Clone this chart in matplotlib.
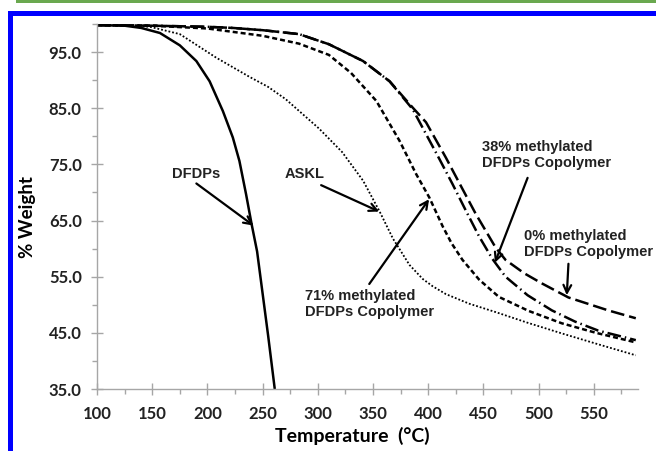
import matplotlib
matplotlib.use("Agg")
import matplotlib.pyplot as plt
from matplotlib.patches import Rectangle
from matplotlib.ticker import MultipleLocator

# TGA curves (temperature in C, % weight)
dfdps_t = [100, 125, 140, 157, 175, 190, 202, 214, 223, 229, 235, 240, 245, 250, 255, 261]
dfdps_w = [99.8, 99.7, 99.3, 98.4, 96.2, 93.4, 89.8, 84.5, 79.8, 75.6, 69.7, 64.4, 59.5, 52.0, 44.5, 35.0]

askl_t = [100, 125, 148, 175, 208, 238, 255, 271, 286, 301, 322, 341, 356, 368, 383, 395,
          404, 416, 437, 461, 490, 521, 555, 588]
askl_w = [99.8, 99.7, 99.5, 98.2, 94.0, 90.6, 88.8, 86.6, 84.0, 81.4, 77.2, 72.1, 66.6, 61.8, 57.1, 54.6,
          53.3, 51.9, 50.2, 48.7, 46.8, 44.9, 42.9, 41.0]

m71_t = [100, 150, 200, 223, 250, 283, 310, 330, 353, 374, 389, 401, 413, 421, 431, 446,
         464, 491, 521, 552, 588]
m71_w = [99.8, 99.7, 99.2, 98.6, 97.9, 96.5, 94.5, 91.3, 86.3, 79.2, 73.3, 69.1, 64.0, 61.0, 58.0, 54.5,
         51.4, 48.9, 46.7, 45.0, 43.3]

m0_t = [100, 150, 200, 223, 250, 283, 310, 341, 365, 386, 398, 416, 430, 443, 461, 470,
        487, 503, 527, 563, 588]
m0_w = [99.8, 99.7, 99.5, 99.3, 98.9, 98.2, 96.4, 93.4, 89.8, 85.1, 82.5, 76.2, 71.0, 66.2, 60.2, 58.0,
        55.6, 53.8, 51.3, 49.0, 47.6]

m38_t = [100, 150, 200, 223, 250, 283, 310, 341, 365, 386, 398, 410, 422, 434, 446, 458,
         470, 490, 512, 533, 554, 588]
m38_w = [99.8, 99.7, 99.5, 99.3, 98.9, 98.2, 96.4, 93.4, 89.8, 84.8, 80.4, 76.0, 71.5, 66.8, 62.2, 58.2,
         55.0, 51.7, 49.0, 47.0, 45.4, 43.7]

x_ticks = [100, 150, 200, 250, 300, 350, 400, 450, 500, 550]
y_ticks = [35.0, 45.0, 55.0, 65.0, 75.0, 85.0, 95.0]

plt.rcParams['font.family'] = ['Lato', 'DejaVu Sans']
plt.rcParams['font.weight'] = 'bold'

fig = plt.figure(figsize=(6.56, 4.51), dpi=100)
ax = fig.add_axes([97/656, 1 - 389/451, (638 - 97)/656, (389 - 24)/451])

lw = 1.8
ax.plot(dfdps_t, dfdps_w, color='black', lw=lw, solid_capstyle='butt')
ax.plot(askl_t, askl_w, color='black', lw=1.3, linestyle=(0, (1.0, 1.1)))
ax.plot(m71_t, m71_w, color='black', lw=lw, linestyle=(0, (2.0, 1.2)))
ax.plot(m0_t, m0_w, color='black', lw=lw, linestyle=(0, (5.5, 2.0)))
ax.plot(m38_t, m38_w, color='black', lw=lw, linestyle=(0, (5.5, 1.6, 0.6, 1.6)))

ax.set_xlim(100, 590)
ax.set_ylim(35, 100)

ax.xaxis.set_minor_locator(MultipleLocator(25))
ax.yaxis.set_minor_locator(MultipleLocator(5))
ax.set_xticks(x_ticks)
ax.set_yticks(y_ticks)
ax.set_yticklabels([f"{v:.1f}" for v in y_ticks])

for s in ['top', 'right']:
    ax.spines[s].set_visible(False)
for s in ['left', 'bottom']:
    ax.spines[s].set_color('#a6a6a6')
    ax.spines[s].set_linewidth(1.0)

ax.tick_params(which='major', direction='inout', length=8, width=1, color='#a6a6a6',
               labelsize=12, labelcolor='#222222')
ax.tick_params(which='minor', direction='out', length=3.5, width=1, color='#a6a6a6')
ax.tick_params(axis='x', which='major', pad=8)
ax.tick_params(axis='y', which='major', pad=7)

ax.set_xlabel("Temperature  (°C)", fontsize=14, fontweight='bold')
ax.set_ylabel("% Weight", fontsize=13.5, fontweight='bold')
ax.xaxis.set_label_coords(0.472, -0.103)
ax.yaxis.set_label_coords(-0.113, 0.47)

# labels with arrows
afont = dict(family='Liberation Sans', fontsize=10.5, fontweight='bold', color='#222222')
arr = dict(arrowstyle='->', color='black', lw=1.6, mutation_scale=14, shrinkA=0, shrinkB=0)

ax.text(189.4, 73.3, "DFDPs", ha='center', va='center', **afont)
ax.annotate('', xy=(241.8, 64.1), xytext=(190, 71.6), arrowprops=arr)

ax.text(288, 73.3, "ASKL", ha='center', va='center', **afont)
ax.annotate('', xy=(355.6, 66.6), xytext=(303, 71.3), arrowprops=arr)

ax.text(288, 50.15, "71% methylated\nDFDPs Copolymer", ha='left', va='center',
        linespacing=1.15, **afont)
ax.annotate('', xy=(400.8, 68.8), xytext=(346.6, 53.7), arrowprops=arr)

ax.text(448.7, 76.7, "38% methylated\nDFDPs Copolymer", ha='left', va='center',
        linespacing=1.15, **afont)
ax.annotate('', xy=(460.4, 57.5), xytext=(490, 72.6), arrowprops=arr)

ax.text(486.6, 60.8, "0% methylated\nDFDPs Copolymer", ha='left', va='center',
        linespacing=1.15, clip_on=False, **afont)
ax.annotate('', xy=(525.5, 51.7), xytext=(527, 57.3), arrowprops=arr)

# frame around the figure as in the source page
W, H = 656, 451
fig.add_artist(Rectangle((16/W, 1 - 2.5/H), 1, 2.5/H, transform=fig.transFigure,
                         color='#6aa84f', lw=0))
fig.add_artist(Rectangle((8/W, 1 - 16/H), 1, 5/H, transform=fig.transFigure,
                         color='#0000ff', lw=0))
fig.add_artist(Rectangle((8/W, 0), 5/W, 1 - 11/H, transform=fig.transFigure,
                         color='#0000ff', lw=0))

fig.savefig("out.png", dpi=100)
